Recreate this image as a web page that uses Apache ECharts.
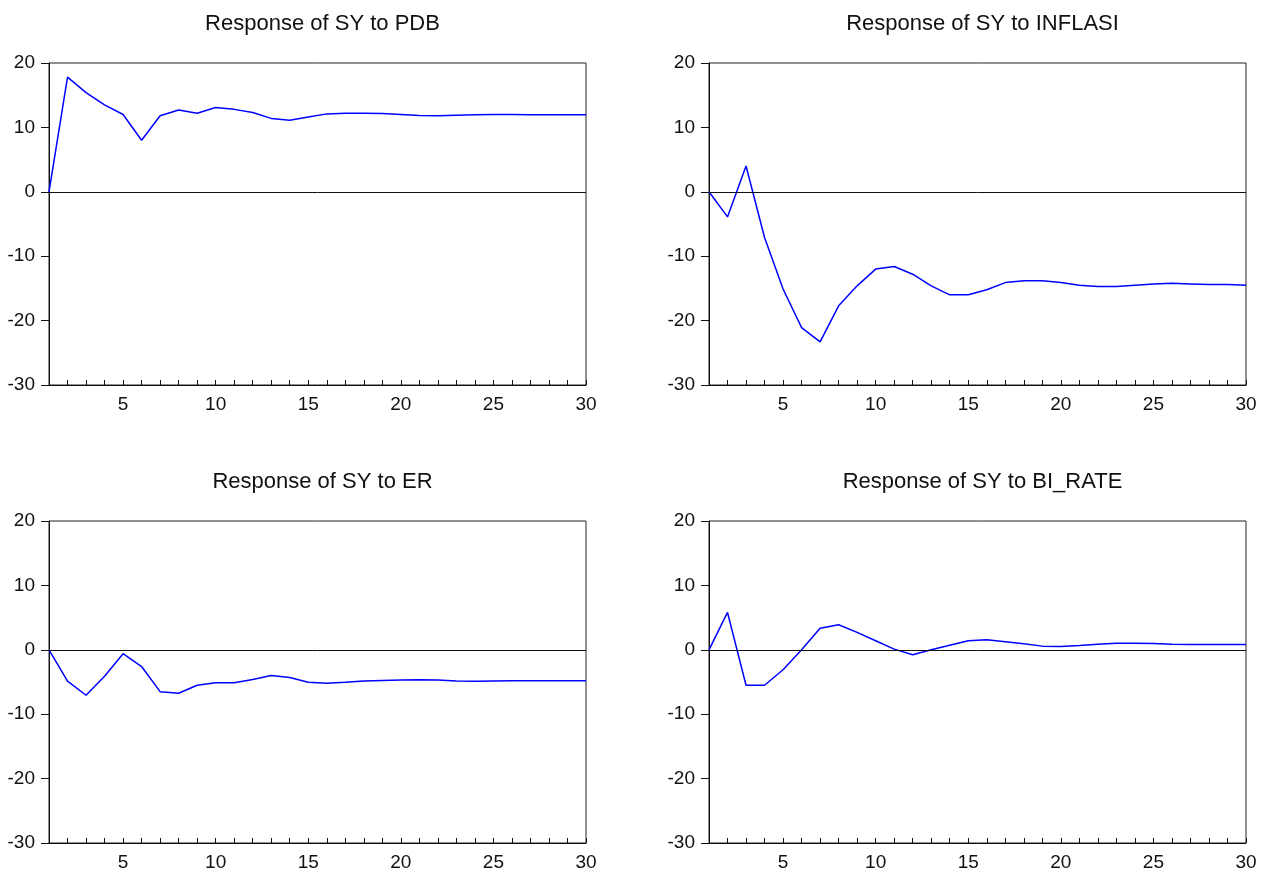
<!DOCTYPE html>
<html>
<head>
<meta charset="utf-8">
<script src="https://cdn.jsdelivr.net/npm/echarts@6/dist/echarts.min.js"></script>
<style>html,body{margin:0;padding:0;background:#fff}#c{width:1272px;height:877px}</style>
</head>
<body>
<div id="c"></div>
<script>
const periods = [1,2,3,4,5,6,7,8,9,10,11,12,13,14,15,16,17,18,19,20,21,22,23,24,25,26,27,28,29,30];
const titles = ['Response of SY to PDB','Response of SY to INFLASI','Response of SY to ER','Response of SY to BI_RATE'];
const yTicks = [-30,-20,-10,0,10,20];
const pdb = [0,17.8,15.4,13.5,12.0,8.0,11.8,12.7,12.2,13.1,12.8,12.3,11.4,11.1,11.6,12.1,12.2,12.2,12.15,12.0,11.85,11.8,11.9,11.95,12.0,12.0,11.95,11.95,11.95,11.95];
const inflasi = [0,-3.9,4.0,-7.1,-15.1,-21.1,-23.3,-17.7,-14.6,-12.0,-11.6,-12.8,-14.6,-16.0,-16.0,-15.2,-14.1,-13.8,-13.8,-14.1,-14.5,-14.7,-14.7,-14.5,-14.3,-14.2,-14.3,-14.4,-14.4,-14.5];
const er = [0,-4.85,-7.06,-4.1,-0.6,-2.6,-6.5,-6.75,-5.5,-5.1,-5.1,-4.6,-4.0,-4.3,-5.05,-5.2,-5.05,-4.85,-4.75,-4.7,-4.65,-4.7,-4.85,-4.9,-4.85,-4.8,-4.8,-4.8,-4.8,-4.8];
const birate = [0,5.8,-5.5,-5.5,-3.1,0.0,3.35,3.9,2.7,1.4,0.1,-0.77,0.0,0.7,1.4,1.55,1.24,0.93,0.57,0.5,0.67,0.88,1.03,1.03,0.98,0.88,0.82,0.82,0.82,0.82];

const seriesData = [pdb, inflasi, er, birate];
const font = 'Liberation Sans, Arial, sans-serif';
const panels = [
  {left:49, top:63},
  {left:709, top:63},
  {left:49, top:521},
  {left:709, top:521}
];
const W = 537, H = 322;

const chart = echarts.init(document.getElementById('c'), null, {renderer:'canvas'});
const option = {
  backgroundColor:'#ffffff',
  animation:false,
  title: panels.map((p,i)=>({
    text: titles[i],
    left: p.left + W/2,
    top: p.top - 55,
    textAlign:'center',
    textStyle:{fontFamily:font, fontSize:22, fontWeight:'normal', color:'#111'}
  })),
  grid: panels.map(p=>({left:p.left, top:p.top, width:W, height:H, show:true, borderColor:'#222', borderWidth:1, backgroundColor:'transparent'})),
  xAxis: panels.map((p,i)=>({
    type:'value', gridIndex:i, min:1, max:30, interval:1,
    axisLine:{show:true, onZero:false, lineStyle:{color:'#111', width:1}},
    axisTick:{show:true, inside:true, length:5, lineStyle:{color:'#111'}},
    axisLabel:{show:true, margin:10, fontFamily:font, fontSize:19, color:'#111',
      formatter:v=> (v%5===0 ? String(v) : '')},
    splitLine:{show:false}
  })),
  yAxis: panels.map((p,i)=>({
    type:'value', gridIndex:i, min:yTicks[0], max:yTicks[yTicks.length-1], interval:10,
    axisLine:{show:true, onZero:false, lineStyle:{color:'#111', width:1}},
    axisTick:{show:true, inside:false, length:8, lineStyle:{color:'#111'}},
    axisLabel:{show:true, margin:14, fontFamily:font, fontSize:19, color:'#111'},
    splitLine:{show:false}
  })),
  series: seriesData.map((d,i)=>({
    type:'line', xAxisIndex:i, yAxisIndex:i,
    data: periods.map((x,k)=>[x, d[k]]),
    showSymbol:false, symbol:'none',
    lineStyle:{color:'#0000ff', width:1.5},
    markLine:{silent:true, symbol:['none','none'], label:{show:false},
      lineStyle:{color:'#111', width:1, type:'solid'},
      data:[{yAxis:0}]}
  }))
};
chart.setOption(option);
</script>
</body>
</html>
